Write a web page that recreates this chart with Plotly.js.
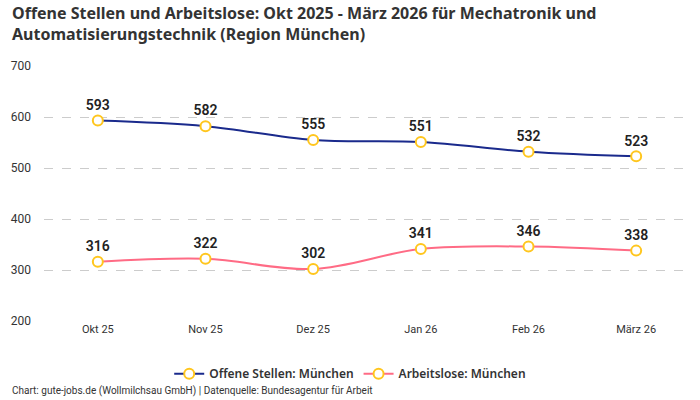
<!DOCTYPE html>
<html><head><meta charset="utf-8">
<script src="https://cdn.plot.ly/plotly-3.0.1.min.js"></script>
<style>body{margin:0}#c{width:700px;height:400px}</style>
</head><body><div id="c"></div>
<script>
const categories = ["Okt 25","Nov 25","Dez 25","Jan 26","Feb 26","März 26"];
const offeneStellen = [593,582,555,551,532,523];
const arbeitslose = [316,322,302,341,346,338];
const yTicks = [200,300,400,500,600,700];
const titleText = 'Offene Stellen und Arbeitslose: Okt 2025 - März 2026 für Mechatronik und<br>Automatisierungstechnik (Region München)';

const font = "Roboto, 'Noto Sans', sans-serif";
const wide = "'Noto Sans', Roboto, sans-serif";
function trace(name, y, color){
  return {
    x: categories, y: y, name: name, type: 'scatter', mode: 'lines+markers+text',
    line: {color: color, width: 2, shape: 'spline', smoothing: 1},
    marker: {size: 10, color: '#ffffff', line: {color: '#FFC61E', width: 2}},
    text: y.map(String), textposition: 'top center',
    textfont: {family: font, size: 14, color: '#222', weight: 600},
    cliponaxis: false
  };
}
const data = [trace('Offene Stellen: München', offeneStellen, '#1a2a8c'),
              trace('Arbeitslose: München', arbeitslose, '#ff6b85')];
const layout = {
  width: 700, height: 400,
  margin: {l: 44, r: 10, t: 66, b: 79},
  paper_bgcolor: '#fff', plot_bgcolor: '#fff',
  font: {family: font, color: '#333', size: 12},
  xaxis: {type: 'category', range: [-0.5, 5.5], showgrid: false, zeroline: false, showline: false,
          ticks: '', tickfont: {size: 11, color: '#333'}},
  yaxis: {range: [200, 700], tickvals: yTicks, showgrid: true, gridcolor: '#cccccc', griddash: 'dash',
          zeroline: false, showline: false, ticks: '', ticklabelstandoff: 12, tickfont: {size: 12, color: '#333'}},
  showlegend: true,
  legend: {orientation: 'h', x: 0.474, xanchor: 'center', y: -0.15, yanchor: 'top',
           font: {family: wide, size: 12, color: '#333', weight: 600}},
  annotations: [
    {text: titleText, xref: 'paper', yref: 'paper', x: -0.053, xanchor: 'left', y: 1.258, yanchor: 'top', align: 'left',
     showarrow: false, font: {family: wide, size: 16, color: '#333', weight: 700}},
    {text: 'Chart: gute-jobs.de (Wollmilchsau GmbH) | Datenquelle: Bundesagentur für Arbeit',
     xref: 'paper', yref: 'paper', x: -0.053, xanchor: 'left', y: -0.245, yanchor: 'top',
     showarrow: false, font: {size: 10, color: '#333'}}]
};
Plotly.newPlot('c', data, layout, {displayModeBar: false});
</script></body></html>
